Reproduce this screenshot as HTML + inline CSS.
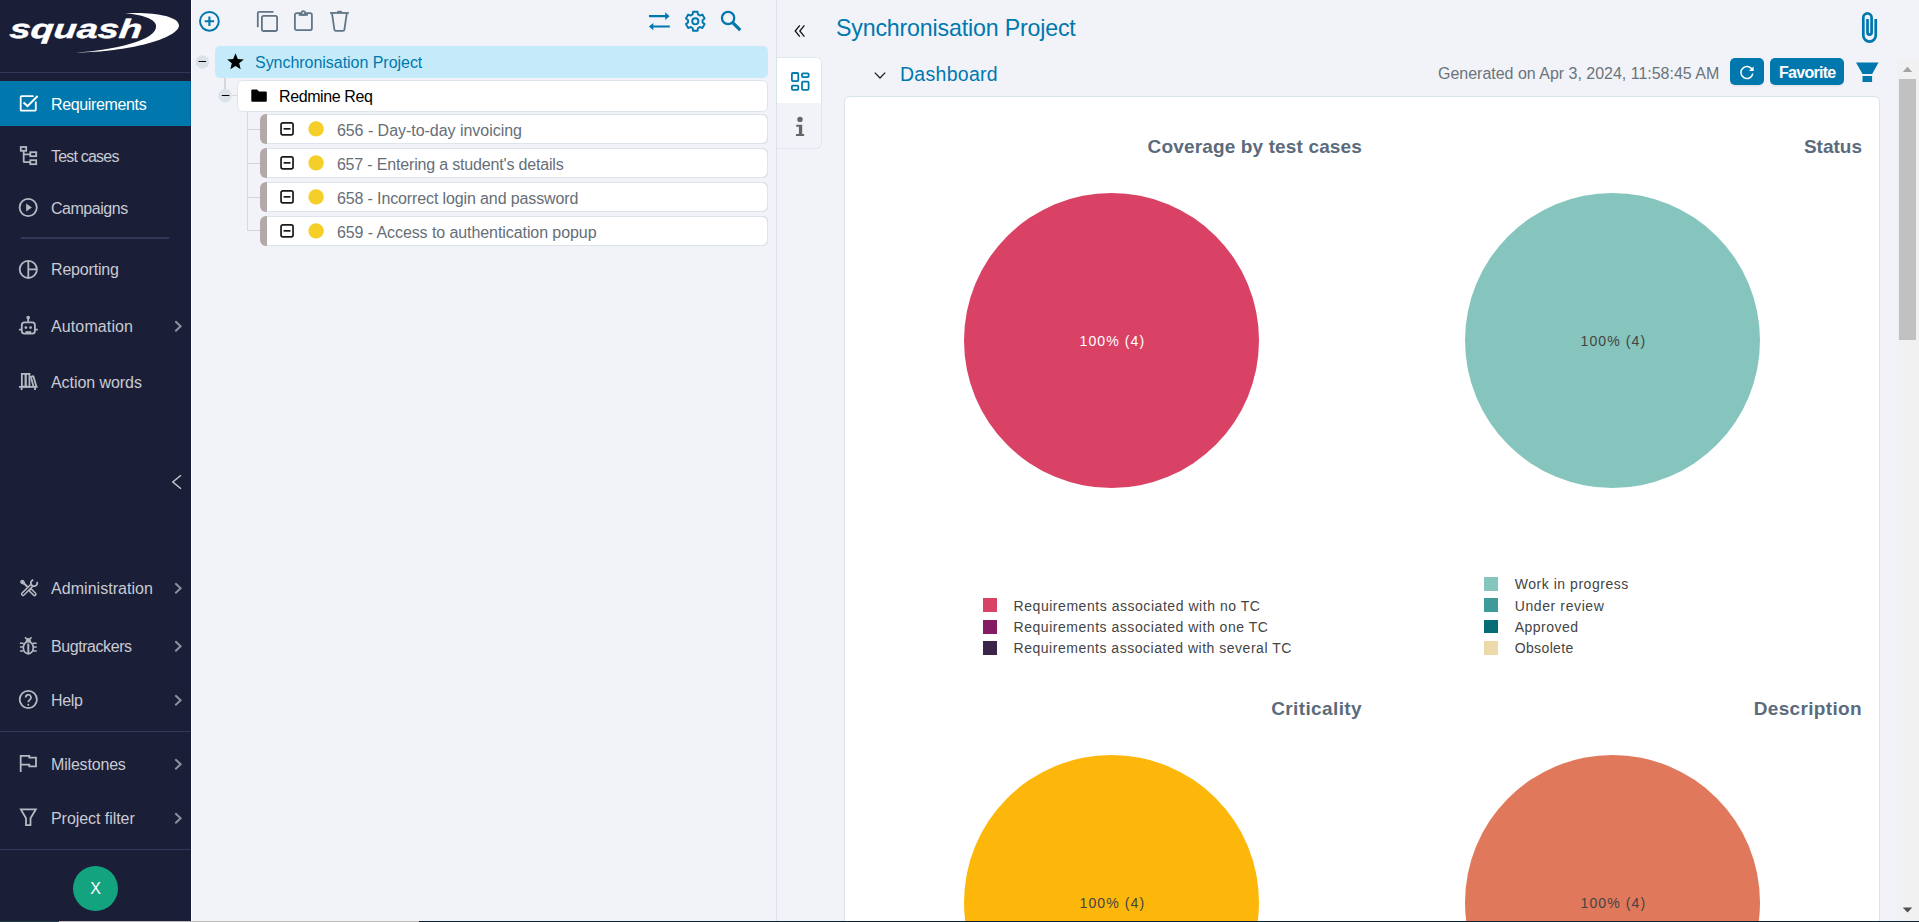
<!DOCTYPE html>
<html><head><meta charset="utf-8">
<style>
*{box-sizing:border-box;margin:0;padding:0}
html,body{width:1919px;height:922px;overflow:hidden;background:#f2f3f8;font-family:"Liberation Sans",sans-serif;}
#root{position:relative;width:1919px;height:922px;overflow:hidden;background:#f2f3f8}
.abs{position:absolute}
#side{position:absolute;left:0;top:0;width:191px;height:922px;background:#1a1e36}
.mi{position:absolute;left:0;width:191px;height:46px;color:#c9cad3;font-size:16px;}
.mi .t{position:absolute;left:51px;top:.7px;line-height:46px;white-space:nowrap}
.mi svg.ic{position:absolute;left:18px;top:12px;width:22px;height:22px;color:#b6b8c2}
.mi.act svg.ic{color:#fff}
.mi svg.ch{position:absolute;left:173px;top:17px;width:10px;height:12px}
.mi.act{background:#0078ae;color:#fff;height:45px}
.sep{position:absolute;height:2px;background:#33375a}

.tx{font-size:16px;white-space:nowrap;margin-top:.7px}
.row{position:absolute;left:260.2px;width:508px;height:30.4px;border-radius:6px;background:#b3a9a9;font-size:16px;color:#666e77;line-height:28.6px;white-space:nowrap}
.row:before{content:"";position:absolute;left:6.7px;top:0;right:0;bottom:0;background:#fff;border:1px solid #dde5eb;border-left:none;border-radius:0 6px 6px 0}
.row span{position:absolute;left:76.7px;top:2.5px}
.row svg{position:absolute;left:17.8px;top:6.2px;width:50px;height:18px}
.ct{position:absolute;margin-top:.8px;text-align:right;font-weight:bold;font-size:19px;line-height:30px;color:#5b6b7c;white-space:nowrap}
.pie{position:absolute;width:295px;height:295px;border-radius:50%;text-align:center;font-size:14.1px;letter-spacing:1.05px;line-height:295px;white-space:nowrap}
.pie span{position:relative;top:1.2px;left:.9px}
.lg{position:absolute;font-size:14px;line-height:18px;color:#444;white-space:nowrap;padding-left:30.4px}
.lg b{font-weight:normal}
.lg i{position:absolute;left:0;top:1.8px;width:13.8px;height:13.8px}
</style><style id="fit">
#m0{letter-spacing:-0.359px}
#m1{letter-spacing:-0.799px}
#m2{letter-spacing:-0.471px}
#m3{letter-spacing:-0.175px}
#m4{letter-spacing:0.116px}
#m5{letter-spacing:-0.058px}
#m6{letter-spacing:0.045px}
#m7{letter-spacing:-0.434px}
#m8{letter-spacing:-0.377px}
#m9{letter-spacing:-0.178px}
#m10{letter-spacing:-0.055px}
#tp{letter-spacing:-0.035px}
#tf{letter-spacing:-0.403px}
#r0{letter-spacing:-0.030px}
#r1{letter-spacing:-0.172px}
#r2{letter-spacing:-0.120px}
#r3{letter-spacing:-0.078px}
#title{letter-spacing:-0.174px}
#dash{letter-spacing:0.288px}
#gen{letter-spacing:-0.013px}
#fav{letter-spacing:-0.731px}
#c0{letter-spacing:0.144px}
#c1{letter-spacing:0.004px}
#c2{letter-spacing:0.382px}
#c3{letter-spacing:0.343px}
#l0{letter-spacing:0.540px}
#l1{letter-spacing:0.531px}
#l2{letter-spacing:0.519px}
#l3{letter-spacing:0.540px}
#l4{letter-spacing:0.610px}
#l5{letter-spacing:0.483px}
#l6{letter-spacing:0.369px}
</style>
</head><body><div id="root">

<!-- SIDEBAR -->
<div id="side">
  <svg class="abs" style="left:0;top:0;width:191px;height:70px" viewBox="0 0 191 70">
    <path d="M125 13.3 C150 11.6 179.5 15.5 179 25.6 C178.4 38.5 128 52.3 76 52.6 C112 50.2 158.5 40.5 156 25.2 C154.6 18.4 141 14.6 125 13.3 Z" fill="#fff"/>
    <text x="0" y="0" transform="translate(9 38) scale(1.42 1) skewX(-4)" font-family="Liberation Sans, sans-serif" font-weight="bold" font-style="italic" font-size="26.6" fill="#fff" stroke="#fff" stroke-width="0.45" id="logot">squash</text>
  </svg>
  <div class="sep" style="left:0;top:72px;width:191px;height:1px"></div>
  <div class="mi act" style="top:81px"><svg class="ic" viewBox="0 0 22 22" fill="none" stroke="currentColor" stroke-width="1.8"><path d="M15.6 3.1 H3.7 a1 1 0 0 0 -1 1 V16.7 a1 1 0 0 0 1 1 H16.8 a1 1 0 0 0 1 -1 V8.6"/><path d="M5.5 9.6 L9.5 13.1 L19.6 3" stroke-width="2"/></svg><span class="t" id="m0">Requirements</span></div>
  <div class="mi" style="top:133px"><svg class="ic" viewBox="0 0 22 22" fill="none" stroke="currentColor" stroke-width="1.8"><rect x="2.8" y="2" width="5.4" height="3.8"/><rect x="12.3" y="7.2" width="5.9" height="4"/><rect x="12.3" y="15.2" width="5.9" height="4"/><path d="M5.7 5.8 V16.2 a1 1 0 0 0 1 1 H12.3 M5.7 9.3 H12.3"/></svg><span class="t" id="m1">Test cases</span></div>
  <div class="mi" style="top:185px"><svg class="ic" viewBox="0 0 22 22" fill="none" stroke="currentColor" stroke-width="1.8"><circle cx="10.2" cy="10.5" r="8.6"/><path d="M8.2 6.6 L13.9 10.5 L8.2 14.4 Z" fill="currentColor" stroke="none"/></svg><span class="t" id="m2">Campaigns</span></div>
  <div class="mi" style="top:246px"><svg class="ic" viewBox="0 0 22 22" fill="none" stroke="currentColor" stroke-width="1.8"><circle cx="10.3" cy="11.4" r="8.6"/><path d="M10.3 2.8 V20 M10.3 11.4 H18.9"/></svg><span class="t" id="m3">Reporting</span></div>
  <div class="mi" style="top:303px"><svg class="ic" viewBox="0 0 22 22" fill="none" stroke="currentColor" stroke-width="1.8"><circle cx="10.2" cy="2.6" r="1.8" fill="currentColor" stroke="none"/><path d="M10.2 3 V6.8"/><rect x="3.8" y="7.3" width="13.1" height="11.4" rx="2.6"/><path d="M0.9 14.7 H3.8 M16.9 14.7 H19.8"/><circle cx="7.9" cy="12.6" r="1.35" fill="currentColor" stroke="none"/><circle cx="12.6" cy="12.6" r="1.35" fill="currentColor" stroke="none"/><path d="M7.4 17.1 H13.2" stroke-width="1.8"/></svg><span class="t" id="m4">Automation</span><svg class="ch" viewBox="0 0 10 12"><path d="M2.3 1.2 L7.6 6.2 L2.3 11.2" fill="none" stroke="#8e90a3" stroke-width="2"/></svg></div>
  <div class="mi" style="top:359px"><svg class="ic" viewBox="0 0 22 22" fill="none" stroke="currentColor" stroke-width="1.8"><rect x="3.85" y="2.9" width="3.8" height="12.7"/><rect x="7.65" y="2.9" width="3.8" height="12.7"/><path d="M15.5 15.6 L12.9 5.9 L15.3 5.1 L18.4 15.6" stroke-linejoin="round"/><path d="M1 15.8 H19.6 M3.6 15.8 V19 M17 15.8 V19"/></svg><span class="t" id="m5">Action words</span></div>
  <div class="mi" style="top:565px"><svg class="ic" viewBox="0 0 22 22" fill="none" stroke="currentColor" stroke-width="1.5" stroke-linejoin="round"><path d="M2.7 4.5 L3.9 3.3 L5.6 3.9 L6.6 5.9 L5.5 7 L3.4 6.2 Z" fill="currentColor" stroke-width="1.2"/><path d="M5.6 6 L9.6 10" stroke-width="1.8"/><g transform="translate(12.1 12.7) rotate(45)"><path d="M0 -1.4 H6.3 a1.4 1.4 0 0 1 0 2.8 H0 Z"/></g><g transform="translate(5 17.1) rotate(-45)"><path d="M13 -1.4 H0 a1.4 1.4 0 0 0 0 2.8 H13"/><g transform="rotate(-18 15.6 0)"><path d="M18.1 2.1 A3.2 3.2 0 1 1 18.1 -2.1" stroke-width="1.8"/></g></g></svg><span class="t" id="m6">Administration</span><svg class="ch" viewBox="0 0 10 12"><path d="M2.3 1.2 L7.6 6.2 L2.3 11.2" fill="none" stroke="#8e90a3" stroke-width="2"/></svg></div>
  <div class="mi" style="top:623px"><svg class="ic" viewBox="0 0 22 22" fill="none" stroke="currentColor" stroke-width="1.7"><path d="M7 2.2 L8.9 4.2 M13.6 2.2 L11.7 4.2" stroke-width="1.6"/><path d="M8 6.6 L8.9 3.7 H11.7 L12.6 6.6 Z" fill="currentColor" stroke-width="1"/><ellipse cx="10.3" cy="12.7" rx="5" ry="6.1"/><path d="M10.3 8.6 V18" stroke-width="2"/><path d="M1.9 8.3 H5.6 M1.9 12.1 H5.2 M1.9 15.9 H5.6 M15 8.3 H18.7 M15.4 12.1 H18.7 M15 15.9 H18.7" stroke-width="1.5"/></svg><span class="t" id="m7">Bugtrackers</span><svg class="ch" viewBox="0 0 10 12"><path d="M2.3 1.2 L7.6 6.2 L2.3 11.2" fill="none" stroke="#8e90a3" stroke-width="2"/></svg></div>
  <div class="mi" style="top:677px"><svg class="ic" viewBox="0 0 22 22" fill="none" stroke="currentColor" stroke-width="1.8"><circle cx="10.3" cy="10.5" r="8.6"/><path d="M7.6 8.4 a2.7 2.7 0 1 1 4.3 2.2 c-1.1 .8 -1.6 1.2 -1.6 2.6"/><circle cx="10.3" cy="15.7" r="1" fill="currentColor" stroke="none"/></svg><span class="t" id="m8">Help</span><svg class="ch" viewBox="0 0 10 12"><path d="M2.3 1.2 L7.6 6.2 L2.3 11.2" fill="none" stroke="#8e90a3" stroke-width="2"/></svg></div>
  <div class="mi" style="top:741px"><svg class="ic" viewBox="0 0 22 22" fill="none" stroke="currentColor" stroke-width="1.8"><path d="M2.7 19 V2.85 H11.3 V4.6 H18 V13.4 H11.3 V11.6 H2.7"/></svg><span class="t" id="m9">Milestones</span><svg class="ch" viewBox="0 0 10 12"><path d="M2.3 1.2 L7.6 6.2 L2.3 11.2" fill="none" stroke="#8e90a3" stroke-width="2"/></svg></div>
  <div class="mi" style="top:795px"><svg class="ic" viewBox="0 0 22 22" fill="none" stroke="currentColor" stroke-width="1.8"><path d="M2.9 2.4 H17.8 L12.5 11.2 V18.1 H8 V11.2 Z"/></svg><span class="t" id="m10">Project filter</span><svg class="ch" viewBox="0 0 10 12"><path d="M2.3 1.2 L7.6 6.2 L2.3 11.2" fill="none" stroke="#8e90a3" stroke-width="2"/></svg></div>
  <div class="sep" style="left:21px;top:237px;width:148px"></div>
  <svg class="abs" style="left:168px;top:472px;width:18px;height:20px" viewBox="0 0 18 20"><path d="M13 3.3 L4.8 10 L13 16.7" fill="none" stroke="#c9cad3" stroke-width="1.4"/></svg>
  <div class="sep" style="left:0;top:731px;width:191px;height:1px"></div>
  <div class="sep" style="left:0;top:849px;width:191px;height:1px"></div>
  <div class="abs" style="left:73px;top:866px;width:45px;height:45px;border-radius:50%;background:#14a37f;color:#fff;font-size:16px;text-align:center;line-height:46px">X</div>
</div>

<div class="abs" style="left:190px;top:0;width:1px;height:922px;background:rgba(0,0,40,.13)"></div>
<div class="abs" style="left:191px;top:0;width:1px;height:922px;background:#fff"></div>
<!-- TREE PANEL -->
<div id="tree">
  <!-- toolbar icons -->
  <svg class="abs" style="left:197px;top:9px;width:25px;height:25px" viewBox="0 0 25 25" fill="none" stroke="#0078ae" stroke-width="2"><circle cx="12.4" cy="12.3" r="9.4"/><path d="M12.4 7.6 V17 M7.7 12.3 H17.1" stroke-width="2.1"/></svg>
  <svg class="abs" style="left:255px;top:9px;width:25px;height:25px" viewBox="0 0 25 25" fill="none" stroke="#607587" stroke-width="1.8"><path d="M2.8 18.3 V4.1 a1.3 1.3 0 0 1 1.3 -1.3 H18.5"/><rect x="6.9" y="6.8" width="15.2" height="15.2" rx="1.8"/></svg>
  <svg class="abs" style="left:291px;top:8px;width:25px;height:25px" viewBox="0 0 25 25" fill="none" stroke="#607587" stroke-width="1.8"><rect x="3.9" y="5.2" width="17" height="17" rx="1.9"/><rect x="7.7" y="5.2" width="9.2" height="2.6" fill="#607587" stroke="none"/><circle cx="12.3" cy="4.9" r="1.75" fill="#f2f3f8" stroke-width="1.6"/></svg>
  <svg class="abs" style="left:327px;top:9px;width:25px;height:25px" viewBox="0 0 25 25" fill="none" stroke="#607587" stroke-width="1.8"><path d="M3 3.95 H21.8"/><path d="M10.2 2.5 H14.9" stroke-width="1.3"/><path d="M5 4.4 L7.4 20.6 a1.5 1.5 0 0 0 1.5 1.3 H15.9 a1.5 1.5 0 0 0 1.5 -1.3 L19.8 4.4"/></svg>
  <svg class="abs" style="left:647px;top:9px;width:25px;height:25px" viewBox="0 0 25 25" fill="none" stroke="#0078ae" stroke-width="2.2"><path d="M2 7.2 H19.5 M5.3 17.5 H22.8"/><path d="M18.2 3.2 L22.6 7.2 L18.2 11 Z M6.3 13.9 L1.9 17.5 L6.3 21.3 Z" fill="#0078ae" stroke="none"/></svg>
  <svg class="abs" style="left:683px;top:9px;width:25px;height:25px" viewBox="0 0 25 25" fill="none" stroke="#0078ae" stroke-width="1.9" stroke-linejoin="round"><path d="M14.92 5.48 L14.58 2.82 L10.02 2.82 L9.68 5.48 A7.30 7.30 0 0 0 7.71 6.63 L5.23 5.59 L2.95 9.53 L5.09 11.16 A7.30 7.30 0 0 0 5.09 13.44 L2.95 15.07 L5.23 19.01 L7.71 17.97 A7.30 7.30 0 0 0 9.68 19.12 L10.02 21.78 L14.58 21.78 L14.92 19.12 A7.30 7.30 0 0 0 16.89 17.97 L19.37 19.01 L21.65 15.07 L19.51 13.44 A7.30 7.30 0 0 0 19.51 11.16 L21.65 9.53 L19.37 5.59 L16.89 6.63 A7.30 7.30 0 0 0 14.92 5.48 Z"/><circle cx="12.3" cy="12.3" r="3.1"/></svg>
  <svg class="abs" style="left:719px;top:9px;width:25px;height:25px" viewBox="0 0 25 25" fill="none" stroke="#0078ae"><circle cx="9.1" cy="9" r="6.15" stroke-width="2.3"/><path d="M13.9 13.8 L21.3 21.2" stroke-width="3.2"/></svg>

  <!-- tree lines -->
  <div class="abs" style="left:224.2px;top:78px;width:1.6px;height:11px;background:#d6d6d6"></div>
  <div class="abs" style="left:232px;top:95px;width:6px;height:1px;background:#d9d9d9"></div>
  <div class="abs" style="left:247px;top:112px;width:1px;height:119px;background:#d9d9d9"></div>
  <div class="abs" style="left:247px;top:129px;width:13px;height:1px;background:#d4d4d4"></div>
  <div class="abs" style="left:247px;top:163px;width:13px;height:1px;background:#d4d4d4"></div>
  <div class="abs" style="left:247px;top:196.6px;width:13px;height:1px;background:#d4d4d4"></div>
  <div class="abs" style="left:247px;top:230.2px;width:13px;height:1px;background:#d4d4d4"></div>

  <!-- project row -->
  <svg class="abs" style="left:195px;top:55px;width:15px;height:15px" viewBox="0 0 15 15"><circle cx="7.4" cy="7" r="6.8" fill="#dbe3e9"/><path d="M3.6 6.5 H11.1" stroke="#000" stroke-width="1"/></svg>
  <div class="abs" style="left:215px;top:46px;width:553px;height:32px;border-radius:5px;background:#c5ebfb"></div>
  <svg class="abs" style="left:225.6px;top:52.4px;width:19px;height:19px" viewBox="0 0 18 18"><path d="M9 1.2 L11.2 6.6 L16.9 7 L12.5 10.7 L13.9 16.3 L9 13.2 L4.1 16.3 L5.5 10.7 L1.1 7 L6.8 6.6 Z" fill="#000"/></svg>
  <div class="abs tx" id="tp" style="left:255px;top:46px;line-height:32px;color:#0078ae">Synchronisation Project</div>

  <!-- folder row -->
  <svg class="abs" style="left:218px;top:89px;width:15px;height:15px" viewBox="0 0 15 15"><circle cx="7" cy="6.6" r="6.8" fill="#dbe3e9"/><path d="M3.8 6.5 H11.4" stroke="#000" stroke-width="1"/></svg>
  <div class="abs" style="left:237px;top:80px;width:531px;height:32px;border-radius:6px;background:#fff;border:1px solid #dde5eb"></div>
  <svg class="abs" style="left:250px;top:87px;width:18px;height:18px" viewBox="0 0 18 18"><path d="M1.3 3.6 a1 1 0 0 1 1 -1 H7 L9 4.4 H15.8 a1 1 0 0 1 1 1 V13.8 a1 1 0 0 1 -1 1 H2.3 a1 1 0 0 1 -1 -1 Z" fill="#000"/></svg>
  <div class="abs tx" id="tf" style="left:279px;top:80px;line-height:32px;color:#000">Redmine Req</div>

  <!-- req rows -->
  <div class="row" style="top:114px;height:30px"><svg viewBox="0 0 50 18" fill="none" stroke="#1a1a1a" stroke-width="1.7"><rect x="3.05" y="2.85" width="12" height="12" rx="1.8"/><path d="M5.6 8.85 H12.5"/><circle cx="38.1" cy="8.9" r="7.7" fill="#f5cf27" stroke="none"/></svg><span id="r0">656 - Day-to-day invoicing</span></div>
  <div class="row" style="top:148.0px"><svg viewBox="0 0 50 18" fill="none" stroke="#1a1a1a" stroke-width="1.7"><rect x="3.05" y="2.85" width="12" height="12" rx="1.8"/><path d="M5.6 8.85 H12.5"/><circle cx="38.1" cy="8.9" r="7.7" fill="#f5cf27" stroke="none"/></svg><span id="r1">657 - Entering a student's details</span></div>
  <div class="row" style="top:181.75px"><svg viewBox="0 0 50 18" fill="none" stroke="#1a1a1a" stroke-width="1.7"><rect x="3.05" y="2.85" width="12" height="12" rx="1.8"/><path d="M5.6 8.85 H12.5"/><circle cx="38.1" cy="8.9" r="7.7" fill="#f5cf27" stroke="none"/></svg><span id="r2" style="top:3.2px">658 - Incorrect login and password</span></div>
  <div class="row" style="top:215.55px"><svg viewBox="0 0 50 18" fill="none" stroke="#1a1a1a" stroke-width="1.7"><rect x="3.05" y="2.85" width="12" height="12" rx="1.8"/><path d="M5.6 8.85 H12.5"/><circle cx="38.1" cy="8.9" r="7.7" fill="#f5cf27" stroke="none"/></svg><span id="r3" style="top:3.4px">659 - Access to authentication popup</span></div>

  <div class="abs" style="left:776px;top:0;width:1px;height:922px;background:#d9e3ea"></div>
</div>

<!-- RIGHT PANEL -->
<div id="right">
  <!-- tabs -->
  <div class="abs" style="left:777px;top:57px;width:45px;height:92px;border:1px solid #dfe6ec;border-left:none;border-radius:0 6px 6px 0;background:#f2f3f8"></div>
  <div class="abs" style="left:777px;top:58px;width:44px;height:45px;border-radius:0 5px 0 0;background:#fff"></div>
  <svg class="abs" style="left:788px;top:69px;width:24px;height:24px" viewBox="0 0 24 24" fill="none" stroke="#0078ae" stroke-width="1.8"><rect x="3.9" y="4" width="6.4" height="8.1" rx="1"/><rect x="14" y="4.3" width="6.6" height="3.8" rx="1"/><rect x="3.9" y="16.6" width="6.4" height="4.2" rx="1"/><rect x="14" y="12.7" width="6.6" height="8.1" rx="1"/></svg>
  <svg class="abs" style="left:788px;top:114px;width:24px;height:24px" viewBox="0 0 24 24"><circle cx="12" cy="5.4" r="2.7" fill="#666"/><path d="M8.2 10.7 H14.2 V20 H16.1 V22 H8 V20 H10.9 V12.7 H8.2 Z" fill="#666"/></svg>
  <svg class="abs" style="left:790px;top:21px;width:20px;height:20px" viewBox="0 0 20 20" fill="none" stroke="#111" stroke-width="1.3"><path d="M9.8 4.4 L5.2 10 L9.8 15.6 M14.4 4.4 L9.8 10 L14.4 15.6"/></svg>

  <div class="abs" style="left:836px;top:10.2px;font-size:23.2px;line-height:36px;color:#0078ae;white-space:nowrap" id="title">Synchronisation Project</div>
  <svg class="abs" style="left:1856px;top:9px;width:28px;height:38px" viewBox="0 0 28 38" fill="none" stroke="#0078ae" stroke-width="2.7"><path d="M19.75 10.1 V26.4 A6.22 6.22 0 0 1 7.3 26.4 V8.6 A4.15 4.15 0 0 1 15.6 8.6 V23.6 A2.05 2.05 0 0 1 11.5 23.6 V10.1"/></svg>

  <svg class="abs" style="left:871.8px;top:67.2px;width:16px;height:16px" viewBox="0 0 16 16" fill="none" stroke="#222" stroke-width="1.3"><path d="M2.8 5.6 L8 11 L13.2 5.6"/></svg>
  <div class="abs" style="left:900px;top:58.3px;font-size:19.5px;line-height:32px;color:#0078ae;white-space:nowrap" id="dash">Dashboard</div>
  <div class="abs" style="left:1438px;top:58.8px;font-size:16px;line-height:30px;color:#6b737b;white-space:nowrap" id="gen">Generated on Apr 3, 2024, 11:58:45 AM</div>
  <div class="abs" style="left:1730px;top:58px;width:34px;height:27px;border-radius:5px;background:#0078ae;box-shadow:0 2px 0 rgba(0,0,0,.045)"></div>
  <svg class="abs" style="left:1738px;top:63px;width:18px;height:18px" viewBox="0 0 18 18" fill="none" stroke="#fff" stroke-width="1.5"><path d="M14.6 7.6 a6 6 0 1 0 0.2 3"/><path d="M15.6 3.4 V8 H11 Z" fill="#fff" stroke="none"/></svg>
  <div class="abs" style="left:1770px;top:58px;width:74px;height:27px;border-radius:5px;background:#0078ae;box-shadow:0 2px 0 rgba(0,0,0,.045)"></div><div class="abs" style="left:1779px;top:59.2px;color:#fff;font-weight:bold;font-size:16px;line-height:27px;white-space:nowrap" id="fav">Favorite</div>
  <svg class="abs" style="left:1855px;top:60px;width:25px;height:25px" viewBox="0 0 25 25"><path d="M1 2.4 H23.5 L17.2 13.9 H7.5 Z M7.5 16.1 H17.1 V21.9 H7.5 Z" fill="#0078ae"/></svg>

  <!-- card -->
  <div class="abs" style="left:844px;top:96px;width:1036px;height:840px;background:#fff;border:1px solid #d9e3ea;border-radius:6px"></div>

  <div class="ct" style="left:1062px;top:131px;width:300px" id="c0">Coverage by test cases</div>
  <div class="ct" style="left:1562px;top:131px;width:300px" id="c1">Status</div>
  <div class="ct" style="left:1062px;top:693px;width:300px" id="c2">Criticality</div>
  <div class="ct" style="left:1562px;top:693px;width:300px" id="c3">Description</div>

  <div class="pie" style="left:964px;top:192.5px;background:#d94165;color:#fff"><span class="pl">100% (4)</span></div>
  <div class="pie" style="left:1465px;top:192.5px;background:#86c5bd;color:#444"><span class="pl">100% (4)</span></div>
  <div class="pie" style="left:964px;top:754.5px;background:#fdb70a;color:#444"><span class="pl">100% (4)</span></div>
  <div class="pie" style="left:1465px;top:754.5px;background:#e0795c;color:#444"><span class="pl">100% (4)</span></div>

  <div class="lg" style="left:983.2px;top:596.5px"><i style="background:#d94165"></i><b id="l0">Requirements associated with no TC</b></div>
  <div class="lg" style="left:983.2px;top:618.2px"><i style="background:#851b62"></i><b id="l1">Requirements associated with one TC</b></div>
  <div class="lg" style="left:983.2px;top:639.3px"><i style="background:#3b2447"></i><b id="l2">Requirements associated with several TC</b></div>
  <div class="lg" style="left:1484.3px;top:575px"><i style="background:#86c5bd"></i><b id="l3">Work in progress</b></div>
  <div class="lg" style="left:1484.3px;top:597px"><i style="top:1.2px;background:#3f9a9a"></i><b id="l4">Under review</b></div>
  <div class="lg" style="left:1484.3px;top:617.8px"><i style="background:#056b75"></i><b id="l5">Approved</b></div>
  <div class="lg" style="left:1484.3px;top:639.2px"><i style="background:#ecdba9"></i><b id="l6">Obsolete</b></div>

  <!-- scrollbar -->
  <div class="abs" style="left:1897px;top:58px;width:22px;height:864px;background:#f1f1f1"></div>
  <div class="abs" style="left:1899px;top:78.5px;width:17px;height:261px;background:#c1c1c1"></div>
  <svg class="abs" style="left:1902px;top:65px;width:11px;height:8px" viewBox="0 0 11 8"><path d="M0.8 7 L5.5 1.8 L10.2 7 Z" fill="#a3a3a3"/></svg>
  <svg class="abs" style="left:1902px;top:906px;width:11px;height:8px" viewBox="0 0 11 8"><path d="M0.8 1.4 L5.5 6.4 L10.2 1.4 Z" fill="#505050"/></svg>
</div>
<!-- bottom strip -->
<div class="abs" style="left:0;top:921px;width:59px;height:1px;background:#243c44"></div>
<div class="abs" style="left:59px;top:921px;width:360px;height:1px;background:#b9b9b9"></div>
<div class="abs" style="left:419px;top:921px;width:1500px;height:1px;background:#0c2030"></div>
</div></body></html>
